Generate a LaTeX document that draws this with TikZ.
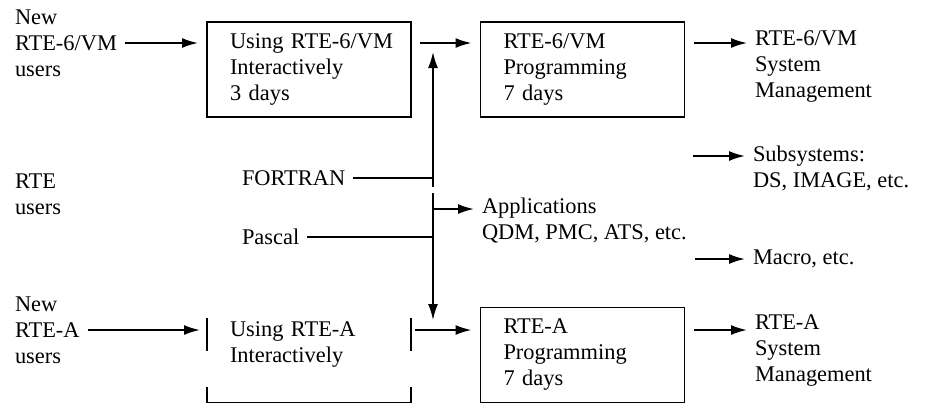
\documentclass[tikz,border=0pt]{standalone}
\usepackage{fontspec}
\setmainfont{Liberation Serif}
\usetikzlibrary{arrows.meta}
\usetikzlibrary{positioning}
\tikzset{x=0.5pt, y=-0.5pt, % one unit is one pixel of the scan
every node/.style={ % Sets the text of every label
font=\fontsize{11.2}{13}\selectfont},
course/.style={ % Boxes for the courses
draw,
line width=0.9pt,
minimum height=47.5pt,
text width=79pt,
inner xsep=11.5pt,
inner ysep=0pt,
align=left,
outer sep=4.5pt},
lbl/.style={ % Free text beside the arrows
inner sep=0pt,
outer sep=4pt,
align=left,
anchor=west},
line/.style={line width=0.9pt},
every edge/.style={ % Sets the properties for each arrow
draw,
-{Latex[length=8pt,width=5pt]}, % Slim filled arrowheads
line width=0.9pt}}

\begin{document}
\begin{tikzpicture}
\useasboundingbox (0,0) rectangle (926,404);
\node[lbl] (newVM) at (7,43) {New\\RTE-6/VM\\users};
\node[lbl] (rteUsers) at (7,194) {RTE\\users};
\node[lbl] (newA) at (7,330) {New\\RTE-A\\users};
\node[course] (useVM) at (309,69.5) {\mbox{Using RTE-6/VM}\\Interactively\\3 days};
\node[course] (progVM) at (582.5,69.5) {RTE-6/VM\\Programming\\7 days};
\node[course, draw=none, outer sep=0pt] (useA) at (309,355) {Using RTE-A\\Interactively\\\mbox{}};
\node[course] (progA) at (582.5,355) {RTE-A\\Programming\\7 days};
\node[lbl] (sysVM) at (747,66) {RTE-6/VM\\System\\Management};
\node[lbl] (subsys) at (745,168) {Subsystems:\\DS, IMAGE, etc.};
\node[lbl] (macro) at (745,259) {Macro, etc.};
\node[lbl] (sysA) at (747,351) {RTE-A\\System\\Management};
\node[lbl] (fortran) at (234,178) {FORTRAN};
\node[lbl] (pascal) at (234,237) {Pascal};
\node[lbl] (apps) at (474,221) {Applications\\QDM, PMC, ATS, etc.};
% the language bus between the two rows
\coordinate (busTop) at (433,52);
\coordinate (busUp) at (433,187);
\coordinate (busDown) at (433,193);
\coordinate (busBot) at (433,320);
\coordinate (appsOut) at (433,209);
\coordinate (subsOut) at (693,156);
\coordinate (macroOut) at (695,259);
% what is left of the lower left box
\draw[line] ([yshift=-5pt]useA.north west) -- ([yshift=-21.5pt]useA.north west);
\draw[line] ([yshift=-5pt]useA.north east) -- ([yshift=-21.5pt]useA.north east);
\draw[line] ([yshift=8pt]useA.south west) -- (useA.south west) -- (useA.south east) -- ([yshift=8pt]useA.south east);
\draw (newVM) edge (useVM.west |- newVM);
\draw (useVM.east |- newVM) edge (progVM.west |- newVM);
\draw (progVM.east |- newVM) edge (sysVM.west |- newVM);
\draw (newA) edge[shorten >=3.5pt] (useA.west |- newA);
\draw (useA.east |- newA) edge[shorten <=2pt] (progA.west |- newA);
\draw (progA.east |- newA) edge (sysA.west |- newA);
\draw (busUp) edge (busTop);
\draw (busDown) edge (busBot);
\draw[line] (fortran) -- (fortran -| busTop);
\draw[line] (pascal) -- (pascal -| busTop);
\draw (appsOut) edge (apps.west |- appsOut);
\draw (subsOut) edge (subsys.west |- subsOut);
\draw (macroOut) edge (macro);
\end{tikzpicture}
\end{document}
